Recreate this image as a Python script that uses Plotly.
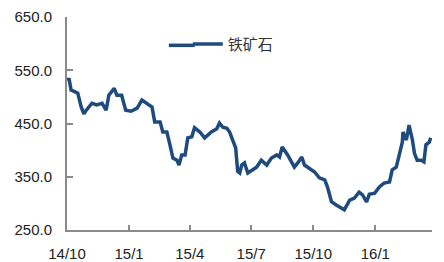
import plotly.graph_objects as go

dates = [
    "2014-10-02", "2014-10-04", "2014-10-07", "2014-10-14", "2014-10-17", "2014-10-22",
    "2014-10-26", "2014-10-29", "2014-11-03", "2014-11-07", "2014-11-14", "2014-11-22",
    "2014-11-28", "2014-12-02", "2014-12-10", "2014-12-14", "2014-12-21", "2014-12-27",
    "2015-01-04", "2015-01-13", "2015-01-20", "2015-01-24", "2015-01-29", "2015-02-04",
    "2015-02-08", "2015-02-16", "2015-02-20", "2015-02-26", "2015-03-02", "2015-03-07",
    "2015-03-13", "2015-03-16", "2015-03-20", "2015-03-25", "2015-03-29", "2015-04-04",
    "2015-04-08", "2015-04-16", "2015-04-23", "2015-05-03", "2015-05-11", "2015-05-15",
    "2015-05-20", "2015-05-26", "2015-05-30", "2015-06-04", "2015-06-08", "2015-06-11",
    "2015-06-14", "2015-06-17", "2015-06-21", "2015-06-26", "2015-07-02", "2015-07-09",
    "2015-07-16", "2015-07-24", "2015-07-31", "2015-08-08", "2015-08-12", "2015-08-16",
    "2015-08-24", "2015-08-31", "2015-09-03", "2015-09-08", "2015-09-14", "2015-09-18",
    "2015-09-25", "2015-10-03", "2015-10-10", "2015-10-18", "2015-10-22", "2015-10-28",
    "2015-11-04", "2015-11-12", "2015-11-16", "2015-11-24", "2015-12-01", "2015-12-08",
    "2015-12-13", "2015-12-19", "2015-12-23", "2015-12-31", "2016-01-07", "2016-01-14",
    "2016-01-22", "2016-01-26", "2016-02-01", "2016-02-06", "2016-02-10", "2016-02-11",
    "2016-02-16", "2016-02-20", "2016-02-25", "2016-02-28", "2016-03-03", "2016-03-09",
    "2016-03-13", "2016-03-16", "2016-03-21", "2016-03-23",
]
iron_ore = [
    530, 535, 513, 509, 507, 481,
    468, 474, 481, 488, 485, 488,
    475, 503, 516, 503, 503, 475,
    473, 479, 494, 490, 485, 481,
    453, 453, 434, 434, 413, 385,
    381, 372, 391, 391, 423, 425,
    442, 434, 423, 434, 440, 451,
    443, 441, 434, 419, 404, 360,
    357, 372, 376, 357, 363, 368,
    381, 372, 385, 391, 387, 406,
    391, 376, 368, 376, 387, 372,
    366, 359, 348, 344, 331, 303,
    297, 291, 288, 306, 310, 321,
    316, 303, 317, 319, 331, 338,
    340, 363, 368, 394, 415, 434,
    419, 447, 419, 394, 381, 381,
    378, 410, 415, 423,
]
series_name = "铁矿石"
tick_dates = ["2014-10-01", "2015-01-01", "2015-04-01", "2015-07-01", "2015-10-01", "2016-01-01"]
tick_labels = ["14/10", "15/1", "15/4", "15/7", "15/10", "16/1"]
y_ticks = [250, 350, 450, 550, 650]

line_color = "#1f4a7e"
line_width = 3.5
fig = go.Figure()
fig.add_trace(go.Scatter(
    x=dates, y=iron_ore, mode="lines", name=series_name,
    line=dict(color=line_color, width=line_width),
))

# the page body has an 8px margin, so the figure is sized to fit inside the window
axis_color = "#8a8a8a"
fig.update_layout(
    width=436, height=254,
    margin=dict(l=59, r=12, t=9, b=32),
    paper_bgcolor="white", plot_bgcolor="white",
    font=dict(family="Liberation Sans, Arial, sans-serif", size=15, color="#222222"),
    showlegend=True,
    legend=dict(
        x=0.331, y=0.95, xanchor="left", yanchor="top",
        bgcolor="rgba(0,0,0,0)",
        font=dict(family="Noto Sans CJK SC", size=15, color="#333333"),
    ),
    xaxis=dict(
        range=["2014-10-01", "2016-03-25"],
        tickvals=tick_dates, ticktext=tick_labels,
        showgrid=False, zeroline=False, automargin=False,
        showline=True, linecolor=axis_color, linewidth=2,
        ticks="inside", ticklen=5, tickcolor=axis_color, tickwidth=1.5,
        ticklabelstandoff=9,
    ),
    yaxis=dict(
        range=[250, 650],
        tickvals=y_ticks, tickformat=".1f",
        showgrid=False, zeroline=False, automargin=False,
        showline=True, linecolor=axis_color, linewidth=2,
        ticks="inside", ticklen=6, tickcolor=axis_color, tickwidth=1.5,
        ticklabelstandoff=10,
    ),
)
# lengthen the legend's line sample to the reference's longer swatch
fig.add_shape(
    type="line", xref="paper", yref="paper",
    x0=0.279, x1=0.35, y0=0.867, y1=0.867,
    line=dict(color=line_color, width=line_width),
)

fig.write_html("out.html")
